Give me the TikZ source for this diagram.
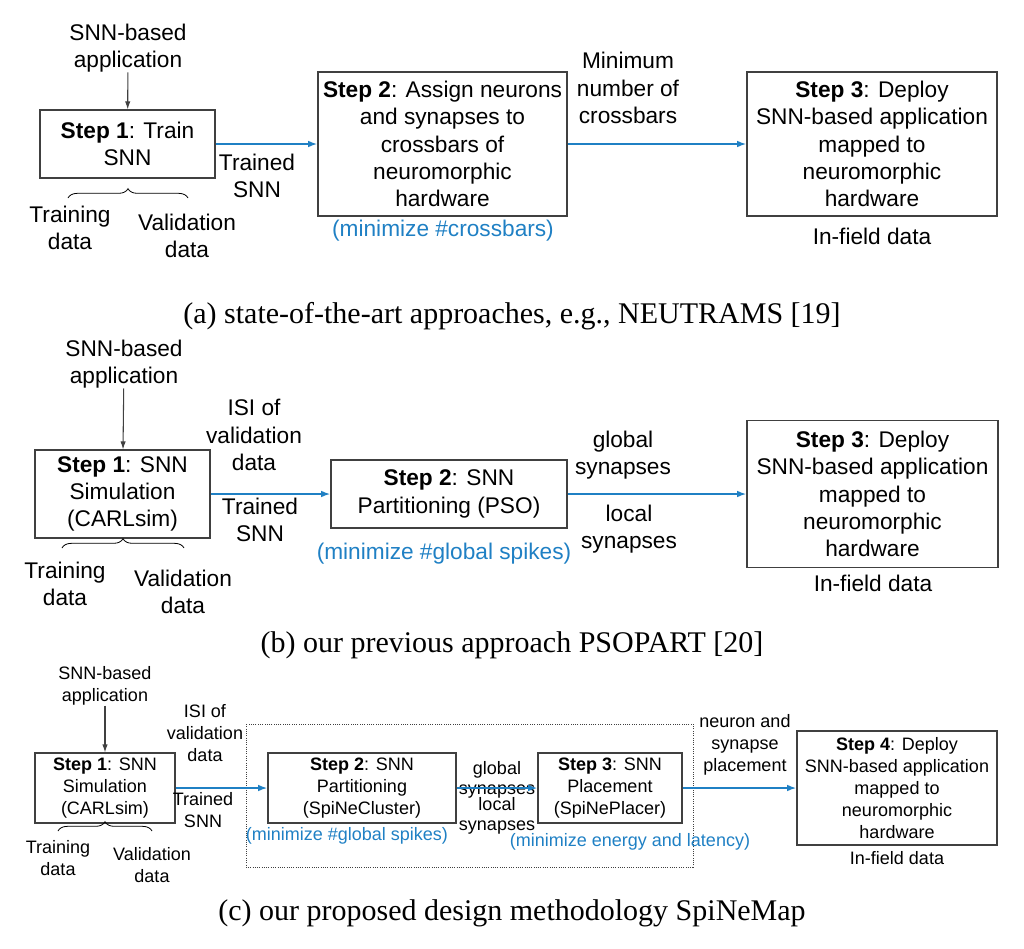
\documentclass[tikz,border=0pt]{standalone}
\usepackage{fontspec}
\setmainfont{Liberation Serif}
\setsansfont{Liberation Sans}
\usetikzlibrary{arrows.meta}
\usetikzlibrary{decorations.pathreplacing}
\definecolor{stepblue}{RGB}{31,128,196}

\begin{document}
\begin{tikzpicture}[x=0.75pt,y=-0.75pt,
  every node/.style={font=\sffamily\fontsize{17}{20.5}\selectfont,align=center,inner sep=0pt},
  small/.style={font=\sffamily\fontsize{13.5}{16.5}\selectfont},
  tight/.style={font=\sffamily\fontsize{13.5}{15}\selectfont},
  stepbox/.style={draw=black!75,line width=0.8pt},
  flow/.style={stepblue,line width=1.3pt,-{Latex[length=7pt,width=5pt]}},
  feed/.style={black!75,line width=0.8pt,-{Latex[length=6pt,width=4pt]}},
  bracket/.style={decorate,decoration={brace,amplitude=7pt},line width=0.6pt},
  note/.style={text=stepblue},
  caption/.style={font=\rmfamily\fontsize{22.5}{26}\selectfont}]
\useasboundingbox (0,0) rectangle (1024,949);

% (a)
\node[stepbox,minimum width=0.75*175pt,minimum height=0.75*68pt] (a1) at (127.5,144) {\textbf{Step 1}: Train\\SNN};
\node[stepbox,minimum width=0.75*249pt,minimum height=0.75*144pt] (a2) at (442.5,144) {\textbf{Step 2}: Assign neurons\\and synapses to\\crossbars of\\neuromorphic\\hardware};
\node[stepbox,minimum width=0.75*250pt,minimum height=0.75*144pt] (a3) at (872,144) {\textbf{Step 3}: Deploy\\SNN-based application\\mapped to\\neuromorphic\\hardware};
\node (aapp) at (128,48) {SNN-based\\application};
\node (atrained) at (257,176) {Trained\\SNN};
\node (amin) at (628,88) {Minimum\\number of\\crossbars};
\node[note] (anote) at (443,231) {(minimize \#crossbars)};
\node (afield) at (872,236) {In-field data};
\node (atrain) at (70,228) {Training\\data};
\node (avalid) at (187,236) {Validation\\data};
\coordinate (abl) at (68,198);
\coordinate (abr) at (188,198);
\draw[feed] (aapp) -- (a1);
\draw[flow] (a1) -- (a2);
\draw[flow] (a2) -- (a3);
\draw[bracket] (abl) -- (abr);
\node[caption] (acap) at (512,316) {(a) state-of-the-art approaches, e.g., NEUTRAMS [19]};

% (b)
\node[stepbox,minimum width=0.75*175pt,minimum height=0.75*88pt] (b1) at (122.5,494) {\textbf{Step 1}: SNN\\Simulation\\(CARLsim)};
\node[stepbox,minimum width=0.75*236pt,minimum height=0.75*68pt] (b2) at (449,494) {\textbf{Step 2}: SNN\\Partitioning (PSO)};
\node[stepbox,minimum width=0.75*251pt,minimum height=0.75*147pt] (b3) at (872.5,494) {\textbf{Step 3}: Deploy\\SNN-based application\\mapped to\\neuromorphic\\hardware};
\node (bapp) at (124,364) {SNN-based\\application};
\node (bisi) at (254,435) {ISI of\\validation\\data};
\node (btrained) at (260,520) {Trained\\SNN};
\node (bglobal) at (623,455) {global\\synapses};
\node (blocal) at (629,529) {local\\synapses};
\node[note] (bnote) at (444,554) {(minimize \#global spikes)};
\node (bfield) at (873,583) {In-field data};
\node (btrain) at (65,584) {Training\\data};
\node (bvalid) at (183,592) {Validation\\data};
\coordinate (bbl) at (62,548);
\coordinate (bbr) at (184,548);
\draw[feed] (bapp) -- (b1);
\draw[flow] (b1) -- (b2);
\draw[flow] (b2) -- (b3);
\draw[bracket] (bbl) -- (bbr);
\node[caption] (bcap) at (512,645) {(b) our previous approach PSOPART [20]};

% (c)
\draw[black!75,densely dotted,line width=0.7pt] (246,724) rectangle (693,867);
\node[stepbox,small,minimum width=0.75*140pt,minimum height=0.75*70pt] (c1) at (105,788) {\textbf{Step 1}: SNN\\Simulation\\(CARLsim)};
\node[stepbox,small,minimum width=0.75*188pt,minimum height=0.75*70pt] (c2) at (362,788) {\textbf{Step 2}: SNN\\Partitioning\\(SpiNeCluster)};
\node[stepbox,small,minimum width=0.75*144pt,minimum height=0.75*70pt] (c3) at (610,788) {\textbf{Step 3}: SNN\\Placement\\(SpiNePlacer)};
\node[stepbox,small,minimum width=0.75*200pt,minimum height=0.75*114pt] (c4) at (897,788) {\textbf{Step 4}: Deploy\\SNN-based application\\mapped to\\neuromorphic\\hardware};
\node[small] (capp) at (105,686) {SNN-based\\application};
\node[small] (cisi) at (205,733) {ISI of\\validation\\data};
\node[small] (ctrained) at (203,810) {Trained\\SNN};
\node[tight] (cglobal) at (497,780) {global\\synapses};
\node[tight] (clocal) at (497,816) {local\\synapses};
\node[small] (cplace) at (745,745) {neuron and\\synapse\\placement};
\node[small,note] (cnote2) at (347,836) {(minimize \#global spikes)};
\node[small,note] (cnote3) at (630,842) {(minimize energy and latency)};
\node[small] (cfield) at (897,858) {In-field data};
\node[small] (ctrain) at (58,858) {Training\\data};
\node[small] (cvalid) at (152,865) {Validation\\data};
\coordinate (cbl) at (58,831);
\coordinate (cbr) at (152,831);
\draw[feed] (capp) -- (c1);
\draw[flow] (c1) -- (c2);
\draw[flow] (c2) -- (c3);
\draw[flow] (c3) -- (c4);
\draw[bracket] (cbl) -- (cbr);
\node[caption] (ccap) at (512,913) {(c) our proposed design methodology SpiNeMap};
\end{tikzpicture}
\end{document}
